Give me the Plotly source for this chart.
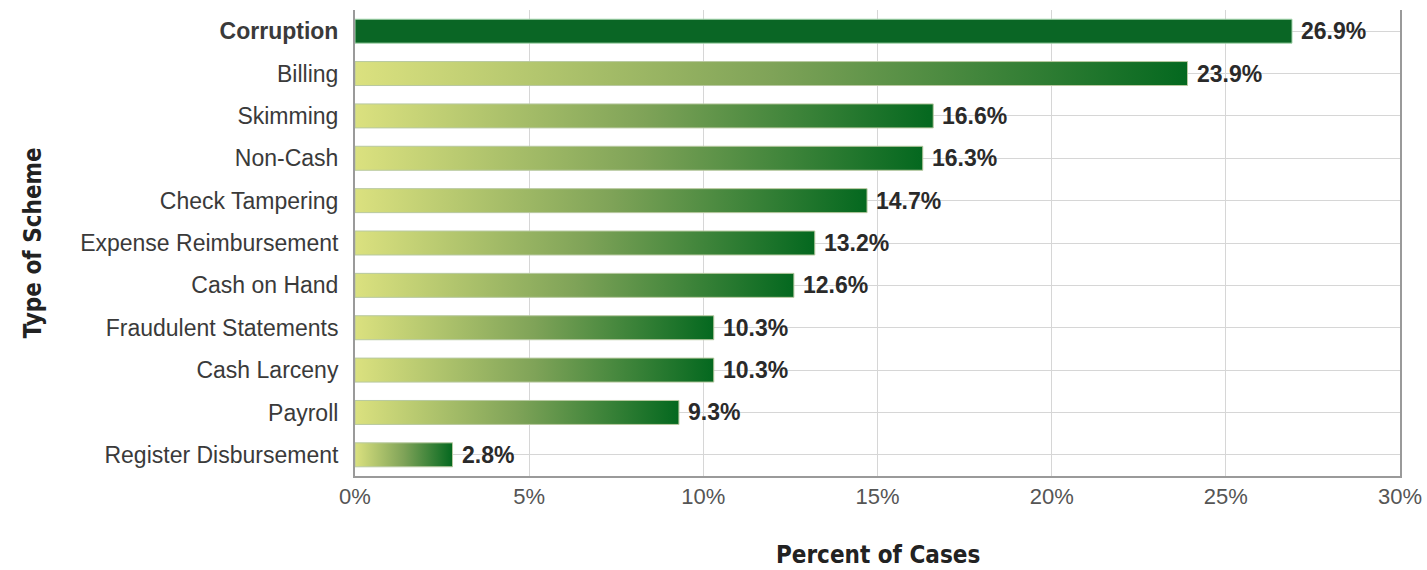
import plotly.graph_objects as go

categories = ["Corruption", "Billing", "Skimming", "Non-Cash", "Check Tampering",
              "Expense Reimbursement", "Cash on Hand", "Fraudulent Statements",
              "Cash Larceny", "Payroll", "Register Disbursement"]
values = [26.9, 23.9, 16.6, 16.3, 14.7, 13.2, 12.6, 10.3, 10.3, 9.3, 2.8]
x_ticks = [0, 5, 10, 15, 20, 25, 30]
x_tick_labels = ["0%", "5%", "10%", "15%", "20%", "25%", "30%"]

half = 0.283
gradient = [[0, "#dbe17f"], [0.5, "#7fa358"], [1, "#04681f"]]

fig = go.Figure()
for i, (cat, v) in enumerate(zip(categories, values)):
    xs = [0, v, v, 0, 0]
    ys = [i - half, i - half, i + half, i + half, i - half]
    if i == 0:
        fig.add_trace(go.Scatter(x=xs, y=ys, fill="toself", mode="lines",
                                 fillcolor="#0a6625",
                                 line=dict(color="#a9d8b0", width=1),
                                 hoverinfo="skip", showlegend=False))
    else:
        fig.add_trace(go.Scatter(x=xs, y=ys, fill="toself", mode="lines",
                                 fillgradient=dict(type="horizontal", colorscale=gradient),
                                 line=dict(color="#b8c9a0", width=1),
                                 hoverinfo="skip", showlegend=False))

for i, v in enumerate(values):
    fig.add_annotation(x=v, y=i, xref="x", yref="y", text=f"<b>{v:.1f}%</b>",
                       showarrow=False, xanchor="left", yanchor="middle", xshift=7,
                       font=dict(family="Liberation Sans, Arial, sans-serif", size=23, color="#2a2a2a"))

ticktext = ["<b>" + categories[0] + "</b>"] + categories[1:]

# axis titles
fig.add_annotation(x=0.5, y=-0.1695, xref="paper", yref="paper", text="<b>Percent of Cases</b>",
                   showarrow=False, xanchor="center", yanchor="middle",
                   font=dict(family="DejaVu Sans Condensed", size=24, color="#222222"))
fig.add_annotation(x=-0.308, y=0.5, xref="paper", yref="paper", text="<b>Type of Scheme</b>",
                   showarrow=False, xanchor="center", yanchor="middle", textangle=-90,
                   font=dict(family="DejaVu Sans Condensed", size=24, color="#222222"))

fig.update_layout(
    width=1427, height=570,
    margin=dict(l=355, r=27, t=10, b=94),
    plot_bgcolor="white", paper_bgcolor="white",
    xaxis=dict(range=[0, 30], tickvals=x_ticks, ticktext=x_tick_labels,
               showgrid=True, gridcolor="#d6d6d6", gridwidth=1,
               showline=True, linecolor="#9a9a9a", linewidth=2, mirror=False,
               zeroline=False, ticks="", ticklen=0, ticklabeloverflow="allow",
               automargin=False,
               tickfont=dict(family="Liberation Sans, Arial, sans-serif", size=22, color="#555555")),
    yaxis=dict(range=[10.5, -0.5], tickvals=list(range(len(categories))), ticktext=ticktext,
               showgrid=True, gridcolor="#d6d6d6", gridwidth=1,
               showline=True, linecolor="#9a9a9a", linewidth=2, mirror=True,
               zeroline=False, ticks="", ticklen=0, ticklabelstandoff=10,
               automargin=False,
               tickfont=dict(family="Liberation Sans, Arial, sans-serif", size=23, color="#3a3a3a")),
)

fig.write_html("out.html", config={"displayModeBar": False},
               post_script="document.body.style.margin='0px';")
